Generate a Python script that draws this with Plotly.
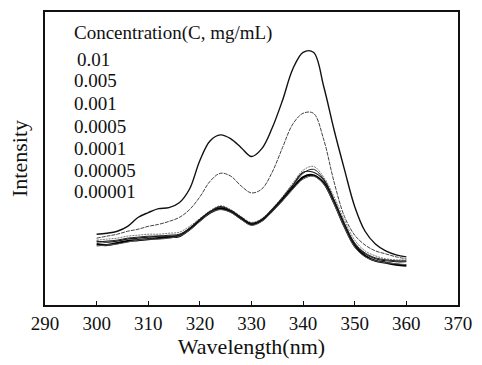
import plotly.graph_objects as go

wavelength = [300, 302, 304, 306, 308, 310, 312, 314, 316, 318, 320, 322, 324, 326, 328, 330,
              332, 334, 336, 338, 340, 342, 344, 346, 348, 350, 352, 354, 356, 358, 360]

concentrations = ["0.01", "0.005", "0.001", "0.0005", "0.0001", "0.00005", "0.00001"]

i_001 = [72, 73, 75, 80, 89, 94, 98, 99, 104, 118, 147, 167, 173, 169, 160, 151,
         159, 180, 208, 240, 257, 257, 222, 178, 138, 100, 75, 62, 55, 51, 49]
i_0005 = [68, 70, 72, 75, 77, 80, 82, 85, 89, 97, 110, 126, 134, 131, 121, 114,
          118, 135, 160, 184, 195, 195, 168, 125, 90, 71, 61, 55, 52, 49, 47]
i_0001 = [66, 67, 68, 70, 71, 72, 72, 73, 74, 80, 88, 96, 101, 97, 90, 84,
          88, 98, 110, 124, 137, 141, 130, 110, 86, 66, 55, 50, 47, 46, 46]
i_00005 = [64, 65, 66, 68, 69, 70, 70, 71, 72, 78, 87, 95, 99, 96, 89, 83,
           87, 97, 108, 121, 134, 138, 128, 107, 83, 63, 53, 48, 46, 45, 45]
i_00001 = [62, 61, 63, 65, 66, 67, 68, 69, 70, 77, 86, 94, 98, 95, 88, 82,
           86, 96, 107, 119, 130, 132, 124, 104, 80, 60, 50, 45, 43, 41, 40]
i_000005 = [60, 61, 62, 64, 66, 67, 67, 68, 70, 76, 85, 94, 97, 94, 87, 81,
            85, 95, 106, 118, 128, 131, 123, 103, 79, 59, 49, 45, 43, 42, 41]
i_000001 = [65, 64, 65, 67, 68, 69, 70, 70, 71, 78, 87, 95, 100, 96, 89, 83,
            87, 97, 109, 122, 135, 135, 127, 106, 82, 62, 52, 47, 45, 44, 44]

series = [i_001, i_0005, i_0001, i_00005, i_00001, i_000005, i_000001]
styles = [
    dict(color="#111111", width=1.4, dash="solid"),
    dict(color="#444444", width=1.0, dash="4px,1px"),
    dict(color="#777777", width=1.0, dash="2px,1px"),
    dict(color="#222222", width=1.0, dash="solid"),
    dict(color="#000000", width=2.2, dash="solid"),
    dict(color="#555555", width=1.0, dash="solid"),
    dict(color="#1a1a1a", width=1.2, dash="solid"),
]

fig = go.Figure()
for name, ys, st in zip(concentrations, series, styles):
    fig.add_trace(go.Scatter(x=wavelength, y=ys, mode="lines", name=name,
                             line=dict(shape="spline", smoothing=1.0, **st),
                             showlegend=False))

FF = "Liberation Serif"
legend_title = "Concentration(C, mg/mL)"
ann_y = [250, 228, 205, 182, 159, 137, 115]
fig.add_annotation(x=295.3, y=277, xref="x", yref="y", text=legend_title, showarrow=False,
                   xanchor="left", yanchor="middle", font=dict(family=FF, size=19, color="#111111"))
for i, (c, yy) in enumerate(zip(concentrations, ann_y)):
    fig.add_annotation(x=295.3 + (0.5 if i == 0 else 0), y=yy, xref="x", yref="y",
                       text=c, showarrow=False, xanchor="left", yanchor="middle",
                       font=dict(family=FF, size=19, color="#111111"))

fig.update_layout(
    width=482, height=365,
    margin=dict(l=45, r=19, t=10, b=58),
    paper_bgcolor="white", plot_bgcolor="white",
    font=dict(family=FF, color="#111111"),
)
fig.update_xaxes(range=[290, 370], tickvals=[290, 300, 310, 320, 330, 340, 350, 360, 370],
                 ticks="inside", ticklen=4, tickwidth=1.2, tickcolor="#111111",
                 showline=True, linecolor="#111111", linewidth=1.6, mirror=True,
                 showgrid=False, zeroline=False,
                 tickfont=dict(family=FF, size=19, color="#111111"),
                 title=dict(text="Wavelength(nm)", font=dict(family=FF, size=22, color="#111111"),
                            standoff=6))
fig.update_yaxes(range=[0, 298], showticklabels=False, ticks="",
                 showline=True, linecolor="#111111", linewidth=1.6, mirror=True,
                 showgrid=False, zeroline=False,
                 title=dict(text="Intensity", font=dict(family=FF, size=22, color="#111111"),
                            standoff=10))

fig.write_html("out.html")
